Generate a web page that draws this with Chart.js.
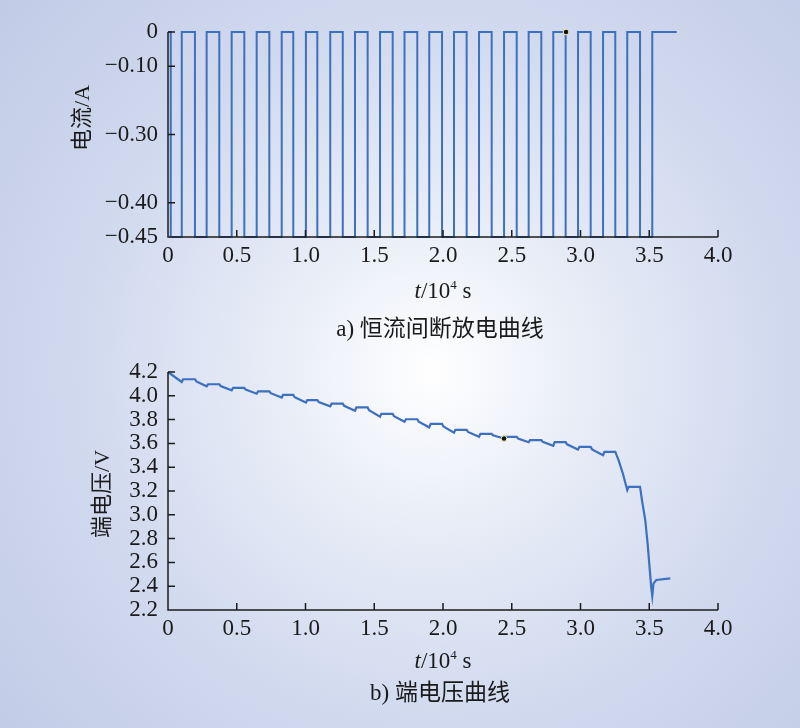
<!DOCTYPE html>
<html>
<head>
<meta charset="utf-8">
<script src="https://cdn.jsdelivr.net/npm/chart.js@4.4.1/dist/chart.umd.min.js"></script>
<style>
  html, body { margin: 0; padding: 0; }
  body {
    width: 800px; height: 728px; position: relative; overflow: hidden;
    background: radial-gradient(circle at 54% 51%, #ffffff 0%, #e6ebf6 30%, #d0d9ee 62%, #c1cbe6 100%);
    font-family: 'Liberation Serif', 'Noto Sans CJK SC', serif;
    color: #1a1a1a;
  }
  .box { position: absolute; left: 0; }
  .lbl { position: absolute; transform: translate(-50%, -50%); white-space: nowrap; font-size: 23px; }
  .lbl sup { font-size: 13px; vertical-align: 9px; }
  .ylbl { position: absolute; transform: translate(-50%, -50%) rotate(-90deg); white-space: nowrap; font-size: 22px; }
  .cjk { font-family: 'Noto Sans CJK SC', sans-serif; }
</style>
</head>
<body>
<div class="box" style="top:0px"><canvas id="currChart" width="800" height="280"></canvas></div>
<div class="box" style="top:340px"><canvas id="voltChart" width="800" height="310"></canvas></div>

<div class="ylbl" style="left:79px; top:118px"><span class="cjk">电流</span>/A</div>
<div class="lbl" style="left:443px; top:290px"><i>t</i>/10<sup>4</sup> s</div>
<div class="lbl" style="left:440px; top:326px">a) <span class="cjk">恒流间断放电曲线</span></div>

<div class="ylbl" style="left:99px; top:494px"><span class="cjk">端电压</span>/V</div>
<div class="lbl" style="left:443px; top:660px"><i>t</i>/10<sup>4</sup> s</div>
<div class="lbl" style="left:440px; top:690px">b) <span class="cjk">端电压曲线</span></div>

<script>
// x axis (t / 10^4 s), shared by both panels
var xTickValues = [0, 0.5, 1.0, 1.5, 2.0, 2.5, 3.0, 3.5, 4.0];
var xTickLabels = ['0', '0.5', '1.0', '1.5', '2.0', '2.5', '3.0', '3.5', '4.0'];

// a) current: edge times and the level that holds from each edge on
var currTime = [0, 0.020, 0.100, 0.196, 0.281, 0.373, 0.463, 0.555, 0.645, 0.737, 0.827,
  0.911, 1.003, 1.086, 1.180, 1.271, 1.360, 1.452, 1.542, 1.634, 1.720, 1.813, 1.900,
  1.993, 2.080, 2.172, 2.262, 2.354, 2.444, 2.536, 2.623, 2.715, 2.802, 2.892, 2.982,
  3.074, 3.164, 3.253, 3.340, 3.433, 3.522, 3.700];
var currValue = [0, -0.45, 0, -0.45, 0, -0.45, 0, -0.45, 0, -0.45, 0,
  -0.45, 0, -0.45, 0, -0.45, 0, -0.45, 0, -0.45, 0, -0.45, 0,
  -0.45, 0, -0.45, 0, -0.45, 0, -0.45, 0, -0.45, 0, -0.45, 0,
  -0.45, 0, -0.45, 0, -0.45, 0, 0];
// the printed current ticks sit at these positions
var currTickValues = [0, -0.075, -0.225, -0.375, -0.45];
var currTickLabels = ['0', '\u22120.10', '\u22120.30', '\u22120.40', '\u22120.45'];

// b) terminal voltage
var voltTime = [0.000, 0.100, 0.110,
  0.196, 0.206, 0.281, 0.291,
  0.373, 0.383, 0.463, 0.473,
  0.555, 0.565, 0.645, 0.655,
  0.737, 0.747, 0.827, 0.837,
  0.911, 0.921, 1.003, 1.013,
  1.086, 1.096, 1.180, 1.190,
  1.271, 1.281, 1.360, 1.370,
  1.452, 1.462, 1.542, 1.552,
  1.634, 1.644, 1.720, 1.730,
  1.813, 1.823, 1.900, 1.910,
  1.993, 2.003, 2.080, 2.090,
  2.172, 2.182, 2.262, 2.272,
  2.354, 2.364, 2.444, 2.454,
  2.536, 2.546, 2.623, 2.633,
  2.715, 2.725, 2.802, 2.812,
  2.892, 2.902, 2.982, 2.992,
  3.074, 3.084, 3.164, 3.174,
  3.253, 3.277, 3.308, 3.340, 3.350,
  3.433, 3.447, 3.471, 3.488, 3.502, 3.514, 3.522, 3.531, 3.551, 3.653];
var voltValue = [4.200, 4.116, 4.139,
  4.139, 4.121, 4.080, 4.097,
  4.097, 4.082, 4.046, 4.066,
  4.066, 4.052, 4.018, 4.038,
  4.038, 4.022, 3.985, 4.007,
  4.007, 3.988, 3.943, 3.963,
  3.963, 3.948, 3.912, 3.934,
  3.934, 3.916, 3.875, 3.902,
  3.902, 3.879, 3.824, 3.848,
  3.848, 3.828, 3.782, 3.803,
  3.803, 3.783, 3.735, 3.764,
  3.764, 3.742, 3.690, 3.714,
  3.714, 3.696, 3.655, 3.680,
  3.680, 3.668, 3.641, 3.655,
  3.655, 3.641, 3.610, 3.627,
  3.627, 3.613, 3.580, 3.611,
  3.611, 3.592, 3.549, 3.571,
  3.571, 3.550, 3.501, 3.529,
  3.529, 3.459, 3.347, 3.207, 3.235,
  3.235, 3.123, 2.955, 2.760, 2.563, 2.396, 2.318, 2.424, 2.452, 2.466];
var voltTickValues = [2.2, 2.4, 2.6, 2.8, 3.0, 3.2, 3.4, 3.6, 3.8, 4.0, 4.2];
var voltTickLabels = ['2.2', '2.4', '2.6', '2.8', '3.0', '3.2', '3.4', '3.6', '3.8', '4.0', '4.2'];

// the two small cursor dots in the picture
var currMarkTime = [2.895], currMarkValue = [0];
var voltMarkTime = [2.444], voltMarkValue = [3.641];

var lineColor = '#3d70bf';
var tickFont = { family: "'Liberation Serif', 'Times New Roman', serif", size: 23 };

function toPoints(xs, ys) {
  return xs.map(function (x, i) { return { x: x, y: ys[i] }; });
}

function fixTicks(values) {
  return function (scale) {
    scale.ticks = values.map(function (v) { return { value: v }; });
  };
}

function labelFrom(values, labels) {
  return function (value) {
    var i = values.indexOf(value);
    return i < 0 ? '' : labels[i];
  };
}

// axis lines with tick marks pointing into the plot
var inwardAxes = {
  id: 'inwardAxes',
  afterDatasetsDraw(chart) {
    var ctx = chart.ctx, a = chart.chartArea;
    var xs = chart.scales.x, ys = chart.scales.y;
    ctx.save();
    ctx.strokeStyle = '#1c1c1c';
    ctx.lineWidth = 1.5;
    ctx.beginPath();
    ctx.moveTo(a.left, a.top);
    ctx.lineTo(a.left, a.bottom);
    ctx.lineTo(a.right, a.bottom);
    xs.ticks.forEach(function (t) {
      var px = xs.getPixelForValue(t.value);
      ctx.moveTo(px, a.bottom);
      ctx.lineTo(px, a.bottom - 7);
    });
    ys.ticks.forEach(function (t) {
      var py = ys.getPixelForValue(t.value);
      ctx.moveTo(a.left, py);
      ctx.lineTo(a.left + 7, py);
    });
    ctx.stroke();
    ctx.restore();
  }
};

function makeChart(id, cfg) {
  return new Chart(document.getElementById(id).getContext('2d'), {
    type: 'line',
    data: {
      datasets: [{
        data: toPoints(cfg.xs, cfg.ys),
        borderColor: lineColor,
        borderWidth: cfg.width,
        pointRadius: 0,
        stepped: cfg.stepped,
        tension: 0,
        order: 1,
        clip: 4
      }, {
        data: toPoints(cfg.markX, cfg.markY),
        showLine: false,
        pointRadius: 2.8,
        pointBackgroundColor: '#111111',
        pointBorderColor: '#f3eaa2',
        pointBorderWidth: 1,
        order: 0,
        clip: 4
      }]
    },
    options: {
      responsive: false,
      animation: false,
      layout: { padding: { top: 32, right: 82, left: 0, bottom: 0 } },
      plugins: { legend: { display: false }, tooltip: { enabled: false } },
      scales: {
        x: {
          type: 'linear', min: 0, max: 4,
          grid: { display: false, drawTicks: false },
          border: { display: false },
          afterBuildTicks: fixTicks(xTickValues),
          afterFit: function (s) { s.height = cfg.xHeight; },
          ticks: { color: '#1a1a1a', font: tickFont, padding: 5, maxRotation: 0,
                   callback: labelFrom(xTickValues, xTickLabels) }
        },
        y: {
          type: 'linear', min: cfg.yMin, max: cfg.yMax,
          grid: { display: false, drawTicks: false },
          border: { display: false },
          afterBuildTicks: fixTicks(cfg.yTicks),
          afterFit: function (s) { s.width = 168; },
          ticks: { color: '#1a1a1a', font: tickFont, padding: 10, autoSkip: false,
                   callback: labelFrom(cfg.yTicks, cfg.yLabels) }
        }
      }
    },
    plugins: [inwardAxes]
  });
}

makeChart('currChart', {
  xs: currTime, ys: currValue, markX: currMarkTime, markY: currMarkValue,
  width: 2, stepped: 'before', yMin: -0.45, yMax: 0,
  yTicks: currTickValues, yLabels: currTickLabels, xHeight: 43
});

makeChart('voltChart', {
  xs: voltTime, ys: voltValue, markX: voltMarkTime, markY: voltMarkValue,
  width: 2.2, stepped: false, yMin: 2.2, yMax: 4.2,
  yTicks: voltTickValues, yLabels: voltTickLabels, xHeight: 40
});
</script>
</body>
</html>
